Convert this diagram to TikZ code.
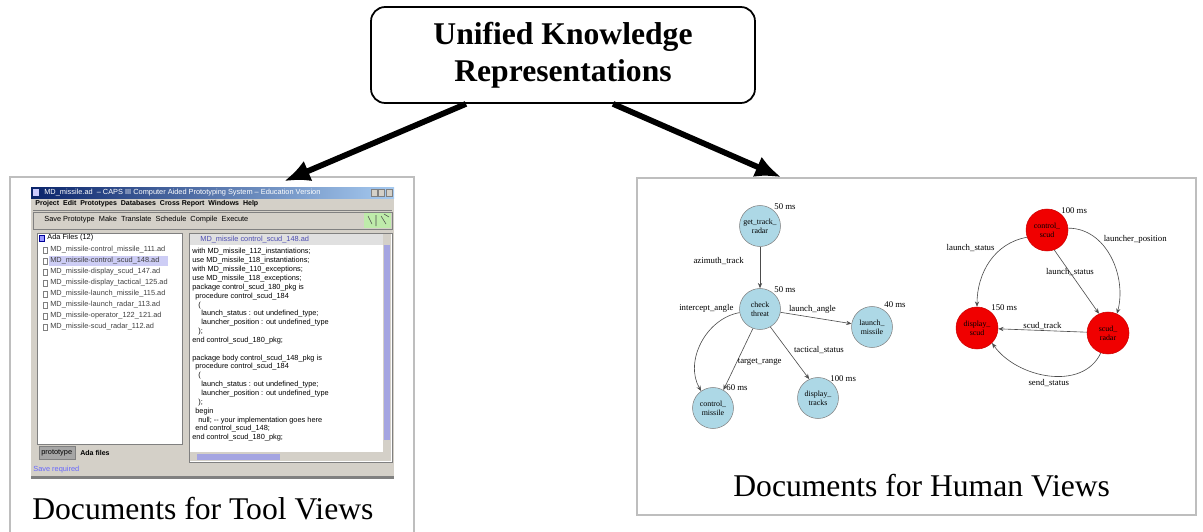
\documentclass[tikz,border=0pt]{standalone}
\usepackage{fontspec}
\setmainfont{Liberation Serif}
\setsansfont{Liberation Sans}
\usetikzlibrary{arrows.meta, positioning, calc, shapes.geometric}
\definecolor{boxgray}{RGB}{190,190,190}
\definecolor{wingray}{RGB}{212,208,200}
\definecolor{windark}{RGB}{128,128,128}
\definecolor{titleblue}{RGB}{10,36,106}
\definecolor{titlelight}{RGB}{166,202,240}
\definecolor{selblue}{RGB}{205,205,245}
\definecolor{scrollblue}{RGB}{165,165,225}
\definecolor{nodeblue}{RGB}{173,216,230}
\definecolor{nodered}{RGB}{240,0,0}
\definecolor{toolgreen}{RGB}{190,235,170}
\tikzset{
  titlebox/.style={rectangle, draw=black, fill=white, rounded corners=8pt,
    line width=1pt, minimum width=7.68cm, minimum height=1.92cm, align=center,
    font=\fontsize{18}{21}\selectfont\bfseries},
  docbox/.style={rectangle, inner sep=0pt, line width=0.9pt},
  panel/.style={draw=boxgray, line width=0.9pt},
  caption/.style={font=\fontsize{18}{22}\selectfont, anchor=base west, inner sep=0pt},
  bigarrow/.style={-{Latex[length=0.52cm, width=0.44cm]}, line width=3.3pt},
  wintext/.style={font=\fontsize{4.2}{4.6}\selectfont\sffamily, anchor=west, inner sep=0pt},
  bnode/.style={circle, draw=gray, fill=nodeblue, minimum size=0.82cm, inner sep=0pt,
    align=center, font=\fontsize{4.5}{5}\selectfont, line width=0.3pt},
  rnode/.style={circle, draw=nodered!85!black, fill=nodered, minimum size=0.84cm,
    inner sep=0pt, align=center, font=\fontsize{4.5}{5}\selectfont, line width=0.3pt},
  elabel/.style={font=\fontsize{5}{5.5}\selectfont, inner sep=0.5pt},
  tlabel/.style={font=\fontsize{5}{5.5}\selectfont, inner sep=0pt, anchor=west},
  edge/.style={-{Stealth[length=3pt, width=2.4pt]}, draw=black!70, line width=0.35pt}
}
\begin{document}
\begin{tikzpicture}[x=0.02cm, y=-0.02cm]
  \useasboundingbox (0,0) rectangle (1203,531);

  % top box and the two document panels
  \node[titlebox] (ukr) at (563,55) {Unified Knowledge\\Representations};
  \node[docbox, minimum width=8.04cm, minimum height=7.06cm] (toolbox) at (212,354.5) {};
  \node[docbox, draw=boxgray, minimum width=11.18cm, minimum height=6.74cm] (humanbox) at (916.5,346.5) {};
  \draw[panel] (toolbox.south west) -- (toolbox.north west) -- (toolbox.north east) -- (toolbox.south east);

  % screenshot of the prototyping tool
  \fill[wingray] (31,187) rectangle (394,478);
  \shade[left color=titleblue, right color=titlelight] (31,187) rectangle (394,198);
  \fill[white!80!blue] (33,189) rectangle (39,196);
  \node[wintext, text=white] (wtitle) at (44,192.5) {MD\_missile.ad \ -- CAPS III Computer Aided Prototyping System -- Education Version};
  \foreach \bx in {371,378,386}
    \filldraw[fill=wingray, draw=windark, line width=0.2pt] (\bx,189) rectangle ++(6,7);
  \node[wintext, font=\fontsize{4}{4.5}\selectfont\sffamily\bfseries] (menu) at (35,204)
    {Project \ Edit \ Prototypes \ Databases \ Cross Report \ Windows \ Help};
  \draw[windark, line width=0.2pt] (33,210.5) -- (392,210.5);
  \draw[windark, line width=0.2pt] (33,212) rectangle (392,229);
  \node[wintext] (tools) at (44,220)
    {Save Prototype \ Make \ Translate \ Schedule \ Compile \ Execute};
  \fill[toolgreen] (364,213) rectangle (391,228);
  \draw[black!70, line width=0.3pt] (368,216) -- (372,224) (376,215) -- (376,226) (381,216) -- (386,224) (384,214) -- (389,217);

  % left panel: file tree
  \filldraw[fill=white, draw=windark, line width=0.3pt] (37,233) rectangle (182,444);
  \filldraw[fill=blue!40, draw=blue!60!black, line width=0.2pt] (39,235) rectangle ++(5,6);
  \node[wintext] (root) at (47,238) {Ada Files (12)};
  \fill[selblue] (49,256) rectangle (168,266);
  \foreach \fname [count=\i from 0] in {MD\_missile-control\_missile\_111.ad,
      MD\_missile-control\_scud\_148.ad, MD\_missile-display\_scud\_147.ad,
      MD\_missile-display\_tactical\_125.ad, MD\_missile-launch\_missile\_115.ad,
      MD\_missile-launch\_radar\_113.ad, MD\_missile-operator\_122\_121.ad,
      MD\_missile-scud\_radar\_112.ad} {
    \draw[windark, line width=0.2pt] (43,{247+\i*11}) rectangle ++(4,6);
    \node[wintext, text=black!75] at (50,{250+\i*11}) {\fname};
  }
  \filldraw[fill=windark!70, draw=windark, line width=0.2pt] (39,446) rectangle (75,459);
  \node[wintext] (tabproto) at (41,452.5) {prototype};
  \node[wintext, font=\fontsize{4}{4.5}\selectfont\sffamily\bfseries] (tabada) at (80,452.5) {Ada files};

  % right panel: Ada source
  \filldraw[fill=white, draw=windark, line width=0.3pt] (189,233) rectangle (392,462);
  \fill[black!12] (190,234) rectangle (383,245);
  \node[wintext, text=blue!40!gray] (hdr) at (200,239.5) {MD\_missile control\_scud\_148.ad};
  \fill[wingray] (383,234) rectangle (391,452);
  \fill[scrollblue] (384,245) rectangle (390,440);
  \fill[wingray] (190,452) rectangle (391,461);
  \fill[scrollblue] (197,453.5) rectangle (280,459.5);
  \foreach \ind/\txt [count=\i from 0] in {0/{with MD\_missile\_112\_instantiations;},
      0/{use MD\_missile\_118\_instantiations;}, 0/{with MD\_missile\_110\_exceptions;},
      0/{use MD\_missile\_118\_exceptions;}, 0/{package control\_scud\_180\_pkg is},
      1/{procedure control\_scud\_184}, 2/{(}, 3/{launch\_status : out undefined\_type;},
      3/{launcher\_position : out undefined\_type}, 2/{);}, 0/{end control\_scud\_180\_pkg;},
      0/{}, 0/{package body control\_scud\_148\_pkg is}, 1/{procedure control\_scud\_184},
      2/{(}, 3/{launch\_status : out undefined\_type;},
      3/{launcher\_position : out undefined\_type}, 2/{);}, 1/{begin},
      2/{null; -{}- your implementation goes here}, 1/{end control\_scud\_148;},
      0/{end control\_scud\_180\_pkg;}}
    \node[wintext] at ({192+\ind*3},{252+\i*8.85}) {\txt};

  \node[wintext, text=blue!60] (status) at (33,470) {Save required};
  \fill[windark] (31,476) rectangle (394,479);

  % graph: blue operators
  \node[bnode] (gtr) at (760,226) {get\_track\_\\radar};
  \node[bnode] (cth) at (760,309) {check\\threat};
  \node[bnode] (lms) at (872,327) {launch\_\\missile};
  \node[bnode] (cms) at (713,408) {control\_\\missile};
  \node[bnode] (dtr) at (818,398) {display\_\\tracks};
  \node[tlabel] at (774,207) {50 ms};
  \node[tlabel] at (774,290) {50 ms};
  \node[tlabel] at (884,305) {40 ms};
  \node[tlabel] at (726,388) {60 ms};
  \node[tlabel] at (830,379) {100 ms};

  \draw[edge] (gtr) -- node[elabel, left=0.3cm, pos=0.35] {azimuth\_track} (cth);
  \draw[edge] (cth) -- node[elabel, above=0.05cm, pos=0.45] {launch\_angle} (lms);
  \draw[edge] (cth.190) to[out=190, in=120]
    node[elabel, pos=0.05, above left] {intercept\_angle} (cms.125);
  \draw[edge] (cth.250) -- node[elabel, right, pos=0.55] {target\_range} (cms.60);
  \draw[edge] (cth.300) -- node[elabel, right=0.1cm, pos=0.45] {tactical\_status} (dtr.115);

  % graph: red operators
  \node[rnode] (csc) at (1047,230) {control\_\\scud};
  \node[rnode] (dsc) at (977,328) {display\_\\scud};
  \node[rnode] (srd) at (1108,333) {scud\_\\radar};
  \node[tlabel] at (1061,211) {100 ms};
  \node[tlabel] at (991,308) {150 ms};

  \draw[edge] (csc.200) to[out=190, in=90]
    node[elabel, pos=0.3, left=0.12cm] {launch\_status} (dsc.north);
  \draw[edge] (csc.290) -- node[elabel, pos=0.35] {launch\_status} (srd.115);
  \draw[edge] (csc.5) to[out=0, in=75]
    node[elabel, pos=0.3, right=0.1cm] {launcher\_position} (srd.65);
  \draw[edge] (srd) -- node[elabel, above] {scud\_track} (dsc);
  \draw[edge] (srd.250) to[out=245, in=-55]
    node[elabel, below=0.05cm] {send\_status} (dsc.-45);

  % connectors from the unified representation
  \draw[bigarrow] ($(ukr.south)+(-97,0)$) -- ($(toolbox.north)+(72,4)$);
  \draw[bigarrow] ($(ukr.south)+(50,0)$) -- ($(humanbox.north west)+(145,0)$);

  % captions
  \node[caption] (tcap) at (32,519) {Documents for Tool Views};
  \node[caption] (hcap) at (733,496) {Documents for Human Views};
\end{tikzpicture}
\end{document}
